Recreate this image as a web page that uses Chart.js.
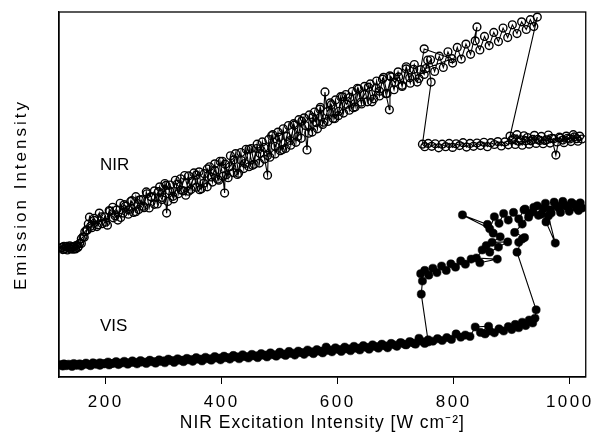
<!DOCTYPE html>
<html><head><meta charset="utf-8">
<script src="https://cdn.jsdelivr.net/npm/chart.js@4.4.0/dist/chart.umd.min.js"></script>
<style>html,body{margin:0;padding:0;background:#fff;}#wrap{width:597px;height:438px;}</style>
</head><body><div id="wrap"><canvas id="c" width="597" height="438"></canvas></div>
<script>
// ---- DATA: [excitation W/cm^2, emission (arb.)] in measurement order ----
const nirRise = [[124,35.4],[126,34.9],[128,35.8],[130,35.2],[132,35.7],[134,34.8],[136,35.5],[138,35.9],[140,35.1],[142,35.6],[144,35.0],[146,35.8],[148,35.3],[150,36.1],[152,35.5],[155,36.6],[158,37.9],[161,38.4],[164,39.8],[167,40.3],[170,41.9],
  [172,43.8],[176,40.9],[180,42.9],[185,41.2],[189,44.9],[194,42.0],[198,43.9],[203,41.6],[207,45.4],[212,46.5],[216,44.2],[221,43.0],[225,47.6],[230,44.9],[234,46.8],[239,44.6],[243,48.1],[248,45.1],[252,49.4],[257,45.9],[261,48.6],[266,46.4],[270,50.7],[275,46.3],[279,49.3],[284,51.0],
  [289,47.4],[293,52.1],[298,49.2],[302,53.0],[305,44.9],[307,48.1],[311,52.6],[316,49.5],[320,53.9],[325,50.2],[329,54.3],[334,51.0],[338,49.8],[343,55.1],[347,51.4],[352,55.9],[356,52.0],[361,56.2],[365,51.6],[370,55.7],
  [375,52.1],[379,57.6],[384,53.4],[388,58.4],[393,54.2],[397,59.1],[402,55.0],[405,50.4],[406,58.3],[411,54.6],[415,60.6],[420,56.0],[424,61.2],[429,55.8],[433,61.5],[438,57.1],[442,62.4],[447,57.6],[451,62.6],[456,58.3],
  [461,63.8],[465,58.6],[470,64.4],[474,59.7],[479,55.3],[481,65.1],[483,60.2],[488,66.4],[492,61.1],[497,67.1],[501,62.0],[506,68.0],[510,62.6],[515,68.9],[519,63.5],[524,69.4],[528,64.3],[533,70.5],[537,65.4],[542,71.0],
  [547,62.2],[551,71.8],[556,67.1],[560,72.6],[565,68.0],[569,73.4],[574,69.2],[578,78.1],[583,70.0],[587,75.1],[592,70.8],[596,75.9],[601,71.6],[605,76.8],[610,72.3],[614,77.4],[620,73.1],
  [625,78.2],[630,74.0],[636,78.9],[641,74.8],[646,79.6],[651,75.4],[656,80.3],[662,76.2],[667,81.1],[672,77.0],[677,81.6],
  [683,77.6],[689,73.2],[690,82.5],[697,78.7],[704,83.6],[711,79.6],[718,84.4],[725,80.5],[732,85.6],[740,81.8],[749,89.9],[797,87.2],[752,84.5],
  [760,86.9],[767,83.7],[775,87.9],[782,84.8],[790,89.1],[798,86.0],[806,90.3],[813,87.1],[821,91.2],
  [829,88.4],[840,95.9],[837,92.1],[845,89.6],[853,93.3],[861,90.8],[869,94.4],[877,91.9],[885,95.6],[893,93.0],[901,96.5],[909,94.1],[917,97.3],[925,95.2],[932,97.9],[938,96.0],[944,98.6]];
const nirLow = [[897,66.0],[903,65.3],[909,66.4],[915,65.0],[921,66.1],[927,65.6],[933,64.7],[939,66.2],[945,65.1],[951,65.9],[957,64.8],[963,66.3],[969,65.4],[976,60.8],[982,65.7],[988,64.9],[994,66.0],[1000,65.2],[1006,66.4],[1012,65.3],[1017,66.0],[1021,65.2],
  [1014,64.6],[1008,65.8],[1002,64.5],[996,65.4],[990,64.2],[984,65.5],[978,64.4],[972,65.3],[966,64.1],[960,65.0],[954,63.9],[948,64.8],[942,64.0],[936,65.1],[930,63.8],[924,64.7],[918,63.5],[912,64.6],[906,63.7],[900,64.9],[894,63.6],[888,64.4],[882,63.3],[876,64.5],[870,63.7],[864,64.2],[858,63.1],[852,64.3],[846,63.4],[840,64.1],[834,63.2],[828,64.0],[822,63.0],[816,64.2],[810,63.4],[804,63.9],[798,62.9],[792,64.0],[786,63.1],[780,63.8],[774,62.8],[768,63.9],[762,63.2],[756,64.0],[750,63.1],[746,63.8]];
const nirFall = [[761,80.8],[755,86.8],[749,82.9],[743,84.2],[737,80.8],[731,84.3],[724,82.0],[718,85.0],[711,79.9],[705,82.2],[698,80.7],[692,82.2],[685,77.7],[679,82.1],[672,78.3],[666,79.2],[659,75.4],[653,79.4],[646,77.4],[640,75.3],[634,79.1],[627,73.8],[621,76.6],[615,74.7],[608,76.8],[602,72.8],[595,70.8],[589,74.6],[582,72.7],[576,69.8],[570,73.9],[563,69.7],[557,71.1],[550,66.8],[544,68.9],[538,70.1],[531,65.9],[525,69.0],[518,64.8],[512,65.9],[505,62.3],[499,65.7],[492,63.2],[486,66.1],[479,60.7],[473,62.9],[466,61.2],[460,62.6],[453,58.0],[447,62.4],[440,58.5],[434,59.3],[427,55.5],[421,59.5],[414,57.6],[408,55.4],[401,59.1],[395,53.9],[388,56.6],[382,54.8],[375,57.0],[369,53.1],[362,51.3],[356,55.3],[349,53.6],[343,50.9],[336,55.2],[330,51.2],[323,52.8],[317,48.8],[310,51.0],[304,52.5],[297,48.6],[291,50.8],[284,47.3],[278,49.4],[271,50.2],[265,46.8],[258,48.5],[252,45.3],[245,48.3],[239,45.8],[232,47.2],[226,43.7],[219,45.8],[213,43.6],[206,45.6],[200,42.4],[193,43.9],[187,41.7],[180,43.5],[174,41.3],[168,40.2],[163,38.3],[158,36.6],[153,35.8],[148,35.1],[143,35.7],[138,35.2],[133,35.8],[128,35.0],[124,35.5]];
const visLowRise = [[124,3.2],[128,3.6],[132,3.1],[136,3.5],[140,3.3],[145,3.7],[150,3.2],[155,3.6],[160,3.4],[166,3.8],[172,3.3],[178,3.9],[184,3.5],[190,3.9],[197,3.6],[204,4.1],[211,3.7],[218,4.2],[225,3.8],[232,4.3],[239,3.9],[246,4.4],[253,4.0],[260,4.5],[268,4.1],[276,4.6],[284,4.2],[292,4.7],[300,4.4],[308,4.9],[316,4.5],[324,5.0],[332,4.6],[340,5.1],[348,4.8],[356,5.3],[364,4.9],[372,5.4],[380,5.0],[388,5.6],[396,5.2],[404,5.7],[412,5.3],[420,5.9],[428,5.5],[436,6.1],[444,5.6],[452,6.2],[460,5.8],[468,6.4],[476,6.0],[484,6.6],[492,6.1],[500,6.8],[508,6.3],[516,7.0],[524,6.5],[532,7.1],[540,6.7],[548,7.4],[556,6.9],[564,7.5],[572,7.1],[580,8.2],[588,7.4],[596,8.0],[604,7.5],[612,8.2],[620,7.7],[628,8.4],[636,7.9],[644,8.6],[652,8.1],[660,8.8],[668,8.3],[676,9.0],[684,8.5],[692,9.2],[700,8.7],[708,9.4],[716,8.9],[724,9.7],[732,9.2],[740,10.6],[748,9.6],[756,10.2],[764,9.8],[772,10.5],[780,10.0],[788,10.8],[796,10.3],[804,11.8],[812,10.9],[820,11.5],[828,11.1],[837,13.7],[860,13.9],[846,12.2],[854,11.8],[862,12.6],[870,12.1],[878,13.2],[886,12.6],[894,13.8],[900,13.0],[906,14.4],[912,13.5],[918,15.0],[924,14.1],[930,15.6],[936,14.8],[940,16.1],[942,18.4]];
const visHigh = [[909,34.2],[918,37.8],[912,36.9],[922,38.2],[905,39.6],[918,41.9],[930,44.6],[923,46.0],[936,45.2],[944,46.9],[951,44.6],[958,47.6],[966,45.8],[973,47.9],[981,46.3],[988,48.1],[996,46.6],[1003,47.8],[1011,46.4],[1018,47.7],[1021,46.3],[1015,45.6],[1007,47.3],[999,45.4],[992,47.0],[984,45.1],[977,46.9],[968,44.9],[959,42.5],[975,36.7],[963,44.1],[955,46.2],[946,44.3],[938,46.5],[929,43.8],[921,45.8],[912,43.3],[903,45.1],[894,43.0],[886,44.8],[878,42.1],[870,43.9],[862,40.6],[815,44.4],[858,41.8],[868,39.4],[880,38.4],[866,36.9],[893,37.0],[877,35.6],[862,34.2],[849,34.8],[856,36.0],[839,32.6],[875,32.3],[845,31.3],[830,32.3],[820,30.9],[812,31.8],[803,30.1],[795,31.0],[787,29.2],[779,30.4],[771,28.6],[764,29.8],[757,27.9],[750,29.2],[743,28.3],[746,26.3],[744,22.7]];
const visLowFall = [[756,9.6],[750,9.2],[742,9.9],[734,9.0],[726,9.5],[718,8.8],[710,9.3],[702,8.4],[694,8.9],[686,8.0],[678,8.6],[670,7.9],[662,8.4],[654,7.6],[646,8.2],[638,7.4],[630,7.9],[622,7.2],[614,7.7],[606,7.0],[598,7.6],[590,6.9],[582,7.3],[574,6.6],[566,7.1],[558,6.4],[550,6.9],[542,6.2],[534,6.7],[526,6.0],[518,6.5],[510,5.9],[502,6.3],[494,5.7],[486,6.1],[478,5.5],[470,6.0],[462,5.3],[454,5.8],[446,5.2],[438,5.6],[430,5.0],[422,5.5],[414,4.9],[406,5.3],[398,4.7],[390,5.2],[382,4.6],[374,5.0],[366,4.4],[358,4.9],[350,4.3],[342,4.7],[334,4.2],[326,4.6],[318,4.0],[310,4.5],[302,3.9],[294,4.3],[286,3.8],[278,4.2],[270,3.7],[262,4.1],[254,3.6],[246,4.0],[238,3.5],[230,3.9],[222,3.4],[214,3.8],[206,3.3],[198,3.7],[190,3.2],[182,3.6],[174,3.1],[166,3.5],[158,3.0],[150,3.4],[142,2.9],[134,3.3],[126,3.0],[122,3.4]];
const seriesNames = ['NIR', 'VIS'];
const xTicks = [200, 400, 600, 800, 1000];
const xTitle = 'NIR Excitation Intensity [W cm\u207B\u00B2]';
const yTitle = 'Emission Intensity';

const toPts = arr => arr.map(p => ({x: p[0], y: p[1]}));
const nirData = toPts([].concat(nirRise, nirLow, nirFall));
const visData = toPts([].concat(visLowRise, visHigh, visLowFall));

const FONT = "'Liberation Sans', Arial, Helvetica, sans-serif";

const framePlugin = {
  id: 'frame',
  beforeDatasetsDraw(chart) {
    const {ctx, chartArea: a} = chart;
    ctx.save();
    ctx.strokeStyle = '#000';
    ctx.lineWidth = 1.3;
    ctx.strokeRect(a.left, a.top, a.right - a.left, a.bottom - a.top);
    ctx.restore();
  }
};

const spacingPlugin = {
  id: 'spacing',
  beforeDraw(chart, args, opts) {
    const ctx = chart.ctx;
    const patch = (scale, tls, lls) => {
      if (!scale || scale._lsPatched) return;
      scale._lsPatched = true;
      const dt = scale.drawTitle.bind(scale);
      const dl = scale.drawLabels.bind(scale);
      scale.drawTitle = function () { ctx.save(); ctx.letterSpacing = tls; dt(); ctx.restore(); };
      scale.drawLabels = function (ca) { ctx.save(); ctx.letterSpacing = lls; dl(ca); ctx.restore(); };
    };
    patch(chart.scales.x, opts.xTitle, opts.xLabels);
    patch(chart.scales.y, opts.yTitle, '0px');
  }
};

const seriesLabelPlugin = {
  id: 'seriesLabels',
  afterDatasetsDraw(chart, args, opts) {
    const {ctx, scales: {x, y}} = chart;
    ctx.save();
    ctx.fillStyle = '#000';
    ctx.font = opts.font;
    ctx.textAlign = 'left';
    ctx.textBaseline = 'alphabetic';
    opts.anchors.forEach((a, i) => {
      ctx.fillText(seriesNames[i], x.getPixelForValue(a[0]), y.getPixelForValue(a[1]));
    });
    ctx.restore();
  }
};

new Chart(document.getElementById('c'), {
  type: 'scatter',
  data: {
    datasets: [
      {
        label: seriesNames[0], data: nirData, showLine: true,
        borderColor: '#000', borderWidth: 1.1,
        pointRadius: 3.9, pointBorderWidth: 1.4, pointBorderColor: '#000',
        pointBackgroundColor: 'rgba(0,0,0,0)', backgroundColor: 'rgba(0,0,0,0)'
      },
      {
        label: seriesNames[1], data: visData, showLine: true,
        borderColor: '#000', borderWidth: 1.1,
        pointRadius: 4.1, pointBorderWidth: 0.5, pointBorderColor: '#000',
        pointBackgroundColor: '#000', backgroundColor: '#000'
      }
    ]
  },
  options: {
    responsive: false,
    animation: false,
    devicePixelRatio: 1,
    layout: {padding: {top: 12, right: 10, left: 0, bottom: 0}},
    plugins: {
      legend: {display: false},
      tooltip: {enabled: false},
      spacing: {xTitle: '1px', xLabels: '2.5px', yTitle: '3px'},
      seriesLabels: {font: "17px " + FONT, anchors: [[190, 56.7], [190, 12.6]]}
    },
    scales: {
      x: {
        type: 'linear', min: 119.5, max: 1027.5,
        afterBuildTicks: s => { s.ticks = xTicks.map(v => ({value: v})); },
        afterFit: s => { s.height = 61; },
        grid: {display: true, drawOnChartArea: false, drawTicks: true, tickLength: 7, color: '#000', lineWidth: 1},
        border: {display: true, color: '#000', width: 1.3},
        ticks: {color: '#000', font: {family: FONT, size: 17}, padding: 8, maxRotation: 0, autoSkip: false,
                callback: v => String(v)},
        title: {display: true, text: xTitle, color: '#000', font: {family: FONT, size: 17.5}, padding: {top: 0, bottom: 4}}
      },
      y: {
        type: 'linear', min: 0, max: 100,
        afterFit: s => { s.width = 59; },
        grid: {display: false},
        border: {display: true, color: '#000', width: 1.3},
        ticks: {display: false},
        title: {display: true, text: yTitle, color: '#000', font: {family: FONT, size: 17}, padding: {top: 11, bottom: 0}}
      }
    }
  },
  plugins: [framePlugin, spacingPlugin, seriesLabelPlugin]
});
</script>
</body></html>
